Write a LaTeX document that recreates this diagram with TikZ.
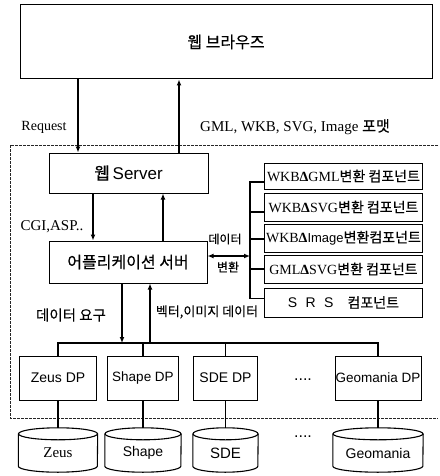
\documentclass[tikz,border=0pt]{standalone}
\usepackage{fontspec}
\setmainfont{Liberation Sans}
\newfontfamily\serf{Liberation Serif}
\newfontfamily\kr[FakeBold=0.3]{Noto Sans CJK KR}
\usetikzlibrary{arrows.meta}
\newcommand\fs[1]{\fontsize{#1}{#1}\selectfont}
\newcommand\cyl[2]{%
  \draw[ln] (#1.north west) -- ([yshift=6pt]#1.south west)
    arc[start angle=180,end angle=360,x radius=#2pt,y radius=6pt] -- (#1.north east);
  \draw[ln] (#1.north) ellipse[x radius=#2pt,y radius=6pt];}
\begin{document}
\begin{tikzpicture}[x=1pt,y=-1pt,
  box/.style={draw,line width=1pt,inner sep=0pt},
  ln/.style={line width=1.1pt},
  arr/.style={line width=1.2pt,-{Latex[length=6pt,width=5pt]}},
  darr/.style={line width=1.2pt,{Latex[length=6pt,width=5pt]}-{Latex[length=6pt,width=5pt]}},
  lbl/.style={inner sep=0pt},
  dashbox/.style={line width=0.8pt,dash pattern=on 3pt off 1pt,black!85}]
\useasboundingbox (0,0) rectangle (439,476);
% dashed frame
\coordinate (fr1) at (438,145);
\coordinate (fr2) at (10,145);
\coordinate (fr3) at (10,418);
\coordinate (fr4) at (438,418);
\draw[dashbox] (fr1) -- (fr2) -- (fr3) -- (fr4);
% main boxes
\node[box,minimum width=412pt,minimum height=74pt] (browser) at (226,42) {\kr\fs{16}웹 브라우즈};
\node[box,minimum width=159pt,minimum height=40pt] (websrv) at (128.5,173) {{\kr\fs{17}웹} \fs{17}Server};
\node[box,minimum width=158pt,minimum height=42pt] (appsrv) at (128,262) {\kr\fs{16}어플리케이션 서버};
% components
\node[box,minimum width=158pt,minimum height=26pt] (c1) at (343.5,176) {\serf\fs{14}WKB\textbf{Δ}GML{\kr 변환 컴포넌트}};
\node[box,minimum width=158pt,minimum height=28pt] (c2) at (343.5,207) {\serf\fs{14}WKB\textbf{Δ}SVG{\kr 변환 컴포넌트}};
\node[box,minimum width=158pt,minimum height=28pt] (c3) at (343.5,238) {\serf\fs{14}WKB\textbf{Δ}{\fontspec{Liberation Sans}\fs{13}Image}{\kr 변환컴포넌트}};
\node[box,minimum width=158pt,minimum height=28pt] (c4) at (343.5,269) {\serf\fs{14}GML\textbf{Δ}SVG{\kr 변환 컴포넌트}};
\node[box,minimum width=158pt,minimum height=29pt] (c5) at (343.5,302.5) {\fs{14}{\addfontfeature{LetterSpace=60}SRS}\quad{\kr 컴포넌트}};
% data providers
\node[box,minimum width=77pt,minimum height=44pt] (zeusdp) at (58,378) {\fs{14}Zeus DP};
\node[box,minimum width=71pt,minimum height=44pt] (shapedp) at (143,378) {\fs{13.5}Shape DP};
\node[box,minimum width=64pt,minimum height=44pt] (sdedp) at (225.5,378) {\fs{14}SDE DP};
\node[box,minimum width=86pt,minimum height=44pt] (geodp) at (378,378) {\fs{13.5}Geomania DP};
\node[lbl] (dots1) at (303,380) {\fs{16}....};
% databases
\node[lbl,minimum width=79pt,minimum height=38pt] (zeusdb) at (58,453) {\serf\fs{15}Zeus};
\node[lbl,minimum width=76pt,minimum height=38pt] (shapedb) at (143,453) {\fs{14}Shape};
\node[lbl,minimum width=65pt,minimum height=38pt] (sdedb) at (225.5,453) {\fs{15}SDE};
\node[lbl,minimum width=90pt,minimum height=38pt] (geodb) at (378,453) {\fs{14}Geomania};
\node[lbl] (dots2) at (303,437) {\fs{16}....};
\cyl{zeusdb}{39.5}
\cyl{shapedb}{38}
\cyl{sdedb}{32.5}
\cyl{geodb}{45}
% labels
\node[lbl] (req) at (44,127) {\serf\fs{14}Request};
\node[lbl] (fmt) at (295,127) {\serf\fs{15}GML, WKB, SVG, Image {\kr 포맷}};
\node[lbl] (cgi) at (52,227) {\serf\fs{15}CGI,ASP..};
\node[lbl] (dat) at (225,239) {\kr\fs{12}데이터};
\node[lbl] (conv) at (228,267) {\kr\fs{12}변환};
\node[lbl] (dreq) at (71,315) {\kr\fs{14.5}데이터 요구};
\node[lbl] (vdat) at (207,312) {\kr\fs{13}벡터,이미지 데이터};
% x positions of arrows
\coordinate (xa) at (78,0);
\coordinate (xb) at (179,0);
\coordinate (xc) at (93,0);
\coordinate (xd) at (163,0);
\coordinate (xe) at (122,0);
\coordinate (xf) at (150,0);
\coordinate (vl) at (250,0);
\coordinate (bus) at (0,343);
% arrows top
\draw[arr] (browser.south -| xa) -- (websrv.north -| xa);
\draw[arr] (websrv.north -| xb) -- (browser.south -| xb);
\draw[arr] (websrv.south -| xc) -- (appsrv.north -| xc);
\draw[arr] (appsrv.north -| xd) -- (websrv.south -| xd);
% component bus
\draw[ln] ([yshift=-6pt]c1.west) -- ([yshift=-6pt]c1.west -| vl) -- ([yshift=4pt]c5.west -| vl) -- ([yshift=4pt]c5.west);
\draw[ln] ([yshift=-5pt]c2.west) -- ([yshift=-5pt]c2.west -| vl);
\draw[ln] ([yshift=-1pt]c3.west) -- ([yshift=-1pt]c3.west -| vl);
\draw[ln] (c4.west) -- (c4.west -| vl);
\draw[darr] ([yshift=6pt]appsrv.east) -- ([yshift=6pt]appsrv.east -| vl);
% data bus
\draw[arr] (appsrv.south -| xe) -- (bus -| xe);
\draw[arr] (bus -| xf) -- (appsrv.south -| xf);
\draw[ln] (zeusdp.north) -- (zeusdp.north |- bus) -- (geodp.north |- bus) -- (geodp.north);
\draw[ln] (shapedp.north) -- (shapedp.north |- bus);
\draw[ln] (sdedp.north) -- (sdedp.north |- bus);
% DP to DB
\draw[ln] (zeusdp.south) -- ([yshift=6pt]zeusdb.north);
\draw[ln] (shapedp.south) -- ([yshift=6pt]shapedb.north);
\draw[ln] (sdedp.south) -- ([yshift=6pt]sdedb.north);
\draw[ln] (geodp.south) -- ([yshift=6pt]geodb.north);
\end{tikzpicture}
\end{document}
